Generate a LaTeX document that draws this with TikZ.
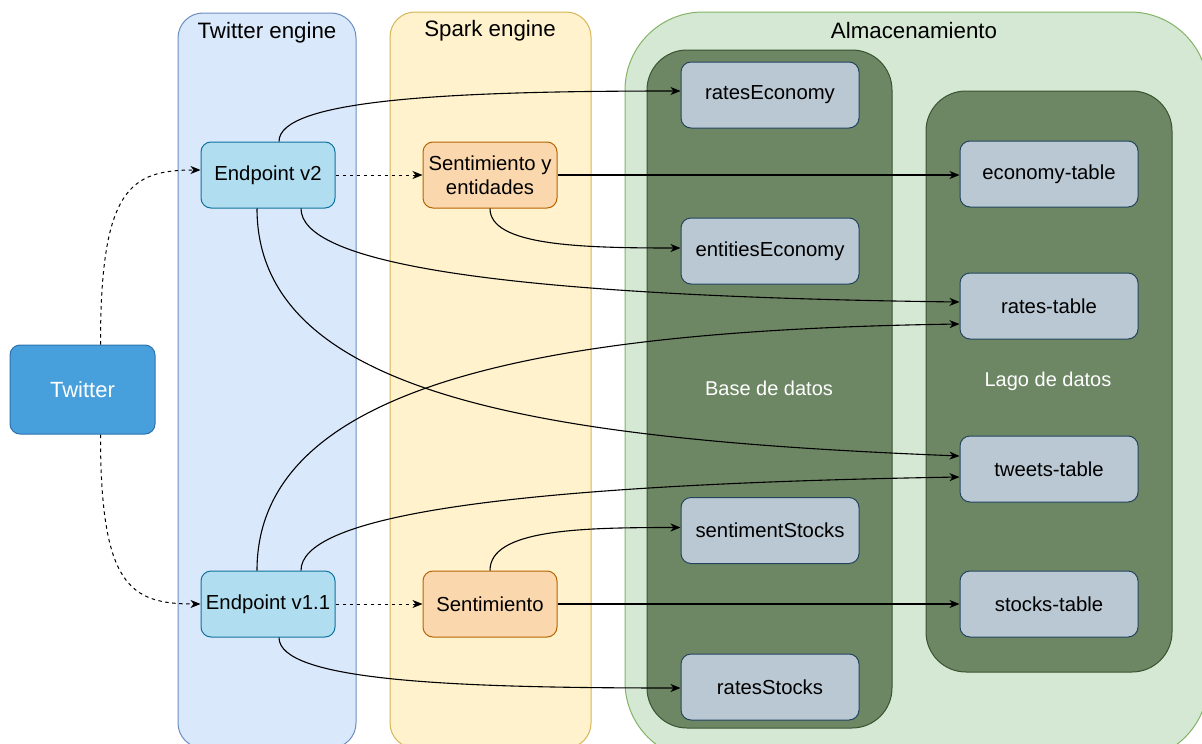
\documentclass[tikz,border=0pt]{standalone}
\usepackage{fontspec}
\setmainfont{Liberation Sans}
\usetikzlibrary{arrows.meta}
\definecolor{engBlueF}{HTML}{DAE8FC}
\definecolor{engBlueD}{HTML}{6C8EBF}
\definecolor{sparkF}{HTML}{FFF2CC}
\definecolor{sparkD}{HTML}{D6B656}
\definecolor{storeF}{HTML}{D5E8D4}
\definecolor{storeD}{HTML}{82B366}
\definecolor{darkF}{HTML}{6D8764}
\definecolor{darkD}{HTML}{3A5431}
\definecolor{tblF}{HTML}{BAC8D3}
\definecolor{tblD}{HTML}{23445D}
\definecolor{epF}{HTML}{B1DDF0}
\definecolor{epD}{HTML}{10739E}
\definecolor{senF}{HTML}{FAD7AC}
\definecolor{senD}{HTML}{B46504}
\definecolor{twF}{HTML}{479FDB}
\definecolor{twD}{HTML}{2E73AE}
\tikzset{
  nodebase/.style={rounded corners=10pt, line width=1pt, minimum width=134pt, minimum height=66pt, inner sep=2pt, align=center, font=\fontsize{20.3}{24.5}\selectfont},
  tblbox/.style={nodebase, fill=tblF, draw=tblD, minimum width=178pt},
  epbox/.style={nodebase, fill=epF, draw=epD},
  senbox/.style={nodebase, fill=senF, draw=senD},
  twbox/.style={nodebase, fill=twF, draw=twD, text=white, minimum width=145pt, minimum height=89pt, font=\fontsize{22}{26}\selectfont},
  contlabel/.style={font=\fontsize{22.3}{26}\selectfont},
  innerlabel/.style={font=\fontsize{20}{24}\selectfont, text=white},
  conn/.style={line width=1.1pt, -{Stealth[length=10pt,width=8pt,inset=3pt]}},
  dconn/.style={conn, line width=1pt, dash pattern=on 3.5pt off 3.5pt},
}
\begin{document}
\begin{tikzpicture}[x=1pt,y=-1pt]
\useasboundingbox (0,0) rectangle (1202,744);
\clip (0,0) rectangle (1202,744);
\fill[white] (0,0) rectangle (1202,744);
% containers
\draw[fill=engBlueF, draw=engBlueD, line width=1pt, rounded corners=25pt] (178,13) rectangle (356,748);
\draw[fill=sparkF, draw=sparkD, line width=1pt, rounded corners=25pt] (390,12) rectangle (591,748);
\draw[fill=storeF, draw=storeD, line width=1pt, rounded corners=78pt] (625,12) rectangle (1208,760);
\draw[fill=darkF, draw=darkD, line width=1pt, rounded corners=40pt] (647,50) rectangle (892,728);
\draw[fill=darkF, draw=darkD, line width=1pt, rounded corners=40pt] (926,91) rectangle (1172,672);
\node[contlabel] (lte) at (267,33) {Twitter engine};
\node[contlabel] (lse) at (490,31) {Spark engine};
\node[contlabel] (lal) at (914,31) {Almacenamiento};
\node[innerlabel] (lbd) at (769,388) {Base de datos};
\node[innerlabel] (lld) at (1048,381) {Lago de datos};
% nodes
\node[twbox] (tw) at (82.5,389.5) {Twitter};
\node[epbox] (ev2) at (268,175) {Endpoint v2};
\node[epbox] (ev1) at (268,604) {Endpoint v1.1};
\node[senbox] (sye) at (490,175) {Sentimiento y\\entidades};
\node[senbox] (sen) at (490,604) {Sentimiento};
\node[tblbox] (re) at (770,95) {ratesEconomy};
\node[tblbox] (ee) at (770,251) {entitiesEconomy};
\node[tblbox] (ss) at (770,530.5) {sentimentStocks};
\node[tblbox] (rs) at (770,687) {ratesStocks};
\node[tblbox] (et) at (1049,174) {economy-table};
\node[tblbox] (rt) at (1049,306) {rates-table};
\node[tblbox] (tt) at (1049,469) {tweets-table};
\node[tblbox] (st) at (1049,604) {stocks-table};
% dashed connectors
\draw[dconn] ([xshift=18pt]tw.north) .. controls +(0,-155) and +(-71,0) .. ([yshift=5pt]ev2.west);
\draw[dconn] ([xshift=18pt]tw.south) .. controls +(0,151) and +(-71,0) .. (ev1.west);
\draw[dconn] (ev2.east) -- (sye.west);
\draw[dconn] (ev1.east) -- (sen.west);
% solid connectors
\draw[conn] ([xshift=11pt]ev2.north) .. controls +(0,-42) and +(-231,0) .. ([yshift=4pt]re.west);
\draw[conn] (sye.east) -- (sye.east -| et.west);
\draw[conn] (sye.south) .. controls +(0,37) and +(-101,0) .. ([yshift=3pt]ee.west);
\draw[conn] ([xshift=33pt]ev2.south) .. controls +(0,52) and +(-480,-6) .. ([yshift=4pt]rt.west);
\draw[conn] ([xshift=-11pt]ev2.south) .. controls +(0,192) and +(-400,-16) .. ([yshift=13pt]tt.west);
\draw[conn] ([xshift=-11pt]ev1.north) .. controls +(0,-191) and +(-400,6) .. ([yshift=-18pt]rt.west);
\draw[conn] ([xshift=33pt]ev1.north) .. controls +(0,-51) and +(-480,8) .. ([yshift=-8pt]tt.west);
\draw[conn] (sen.north) .. controls +(0,-41) and +(-101,0) .. ([yshift=3pt]ss.west);
\draw[conn] (sen.east) -- (st.west);
\draw[conn] ([xshift=11pt]ev1.south) .. controls +(0,43) and +(-231,0) .. ([yshift=-1pt]rs.west);
\end{tikzpicture}
\end{document}
